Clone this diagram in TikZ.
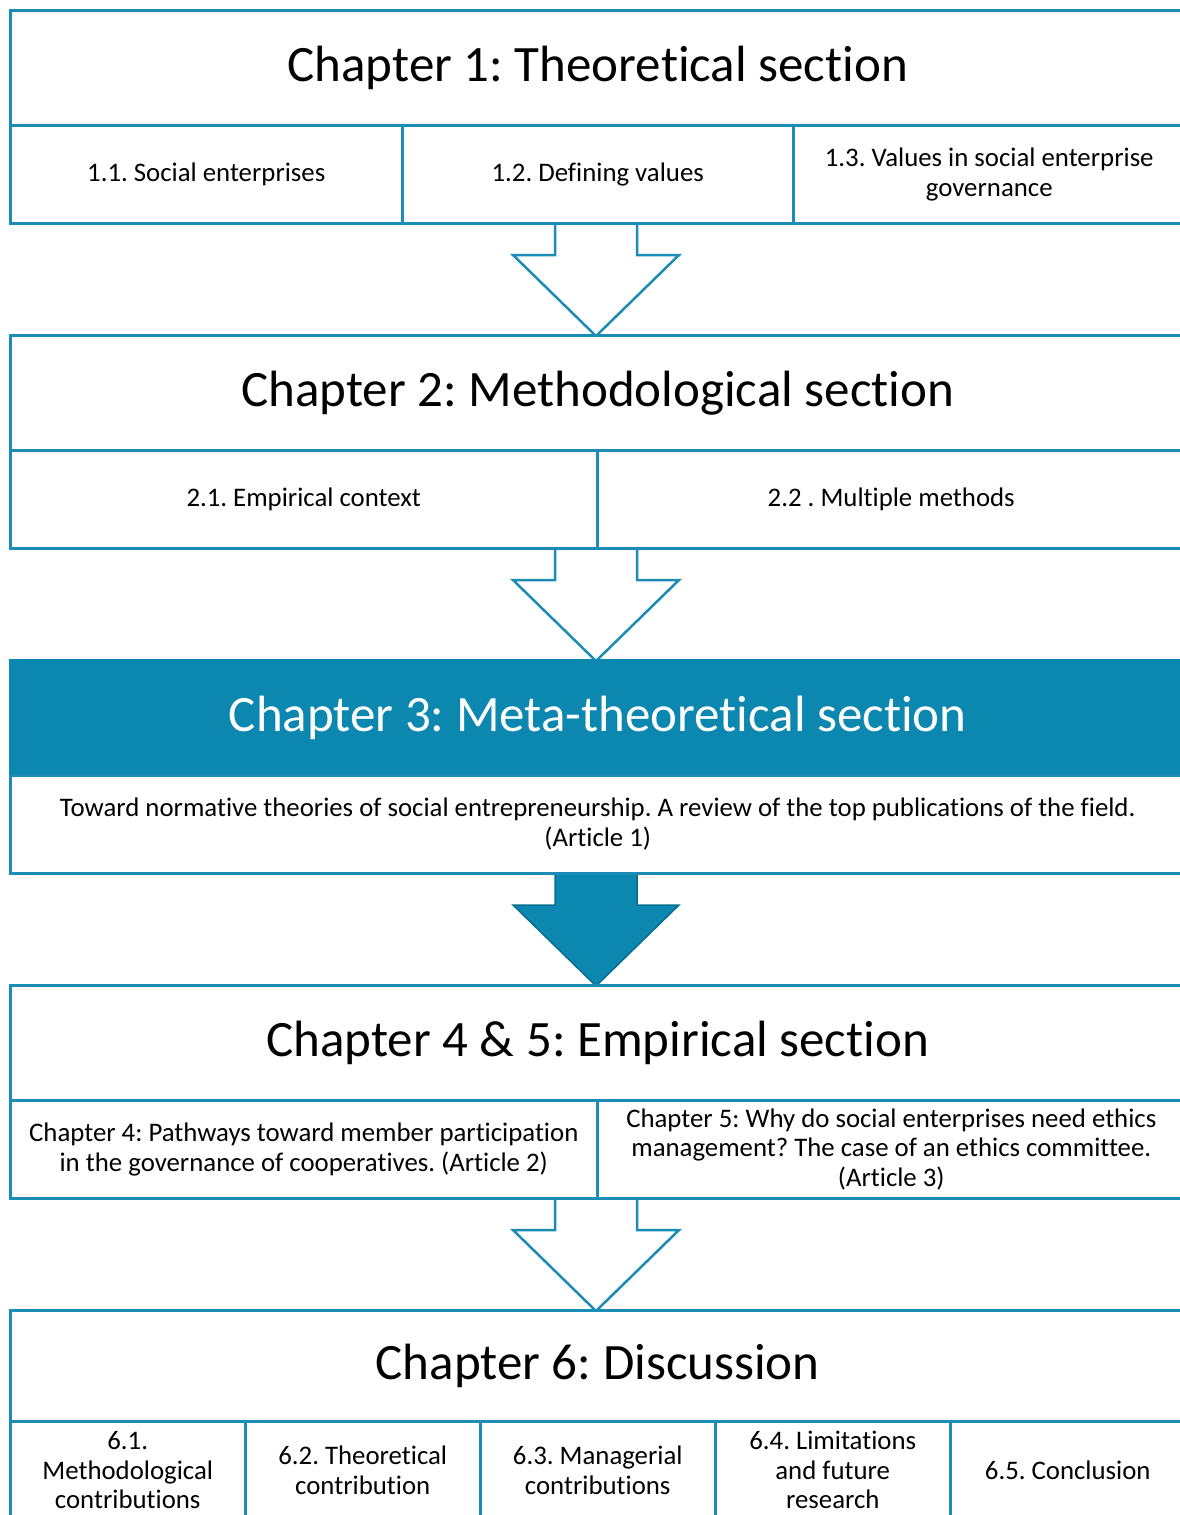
\documentclass[tikz,border=0pt]{standalone}
\usepackage{fontspec}
\setmainfont{Carlito}[Ligatures={CommonOff,ContextualOff}]
\frenchspacing
\definecolor{tealline}{HTML}{1A8CB6}
\definecolor{tealfill}{HTML}{0B87B0}
\definecolor{tealdark}{HTML}{0A6E8F}
\begin{document}
\begin{tikzpicture}[x=1pt,y=-1pt,
  cell/.style={draw=tealline, line width=2.5pt, fill=white, align=center, inner sep=0pt, anchor=north west},
  headbox/.style={cell, minimum width=1175pt, minimum height=115pt, font=\fontsize{51}{60}\selectfont},
  subbox/.style={cell, minimum height=98pt, font=\fontsize{26.8}{29.5}\selectfont},
  openarrow/.style={draw=tealline, line width=2.5pt, line join=miter},
  fullarrow/.style={draw=tealdark, fill=tealfill, line width=1.5pt, line join=miter}]
\useasboundingbox (0,0) rectangle (1180,1515);
\clip (0,0) rectangle (1180,1515);
% arrows (drawn first, boxes cover their ends)
\coordinate (a1) at (596,222);
\coordinate (a2) at (596,547);
\coordinate (a3) at (596,872);
\coordinate (a4) at (596,1197);
\draw[openarrow, shift={(a1)}] (-41,0) -- (-41,33) -- (-83,33) -- (0,114) -- (83,33) -- (41,33) -- (41,0);
\draw[openarrow, shift={(a2)}] (-41,0) -- (-41,33) -- (-83,33) -- (0,114) -- (83,33) -- (41,33) -- (41,0);
\draw[fullarrow, shift={(a3)}] (-41,0) -- (-41,33) -- (-83,33) -- (0,114) -- (83,33) -- (41,33) -- (41,0) -- cycle;
\draw[openarrow, shift={(a4)}] (-41,0) -- (-41,33) -- (-83,33) -- (0,114) -- (83,33) -- (41,33) -- (41,0);
% Chapter 1
\node[headbox] (c1) at (9,9) {Chapter 1: Theoretical section};
\node[subbox, minimum width=392pt] (s11) at (9,124) {1.1. Social enterprises};
\node[subbox, minimum width=391pt] (s12) at (401,124) {1.2. Defining values};
\node[subbox, minimum width=392pt] (s13) at (792,124) {1.3. Values in social enterprise\\governance};
% Chapter 2
\node[headbox] (c2) at (9,334) {Chapter 2: Methodological section};
\node[subbox, minimum width=587pt] (s21) at (9,449) {2.1. Empirical context};
\node[subbox, minimum width=588pt] (s22) at (596,449) {2.2 . Multiple methods};
% Chapter 3
\node[headbox, fill=tealfill, draw=tealfill, text=white] (c3) at (9,659) {Chapter 3: Meta-theoretical section};
\node[subbox, minimum width=1175pt] (s31) at (9,774) {Toward normative theories of social entrepreneurship. A review of the top publications of the field.\\(Article 1)};
% Chapter 4 & 5
\node[headbox] (c4) at (9,984) {Chapter 4 \& 5: Empirical section};
\node[subbox, minimum width=587pt] (s41) at (9,1099) {Chapter 4: Pathways toward member participation\\in the governance of cooperatives. (Article 2)};
\node[subbox, minimum width=588pt] (s51) at (596,1099) {Chapter 5: Why do social enterprises need ethics\\management? The case of an ethics committee.\\(Article 3)};
% Chapter 6
\node[headbox, minimum height=111pt] (c6) at (9,1309) {Chapter 6: Discussion};
\node[subbox, minimum width=235pt] (s61) at (9,1420) {6.1.\\Methodological\\contributions};
\node[subbox, minimum width=235pt] (s62) at (244,1420) {6.2. Theoretical\\contribution};
\node[subbox, minimum width=235pt] (s63) at (479,1420) {6.3. Managerial\\contributions};
\node[subbox, minimum width=235pt] (s64) at (714,1420) {6.4. Limitations\\and future\\research};
\node[subbox, minimum width=235pt] (s65) at (949,1420) {6.5. Conclusion};
\end{tikzpicture}
\end{document}
